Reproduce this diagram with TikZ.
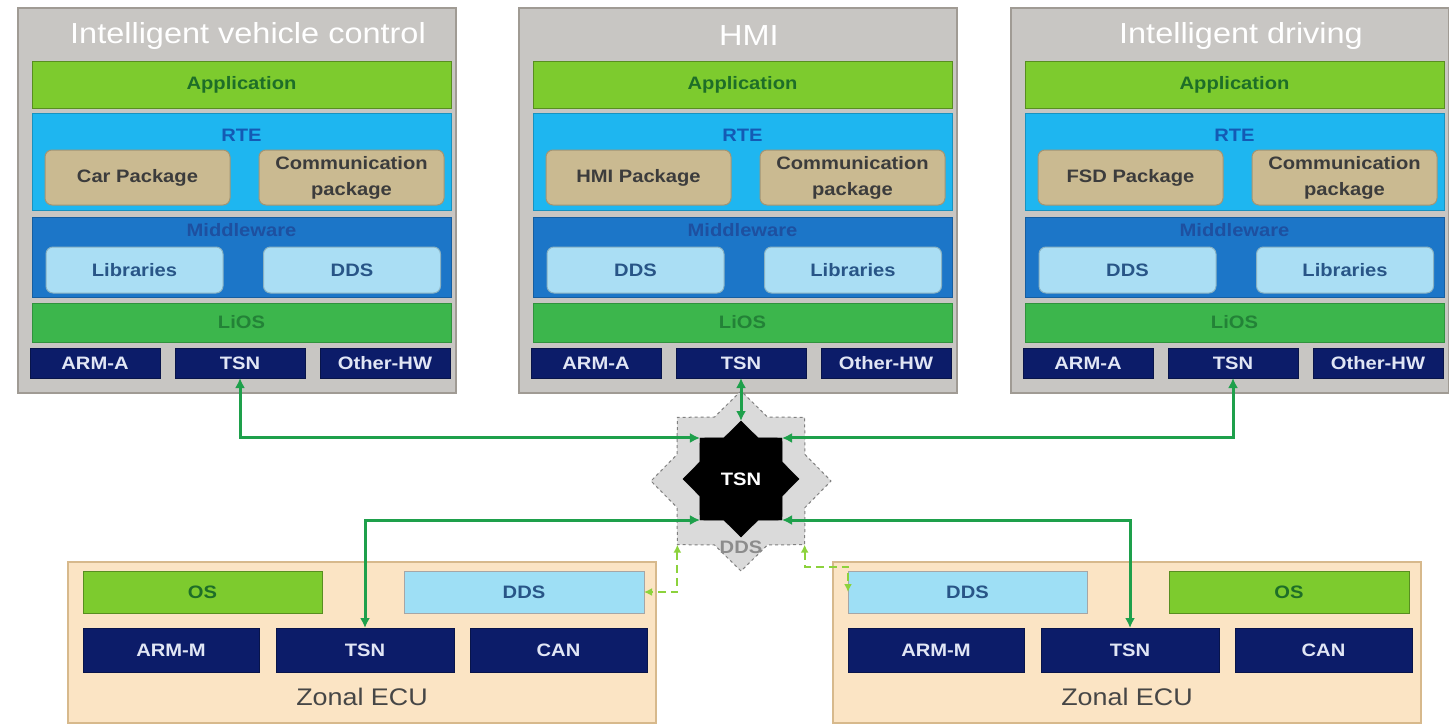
\documentclass[tikz,border=0pt]{standalone}
\usepackage{fontspec}
\setmainfont{Liberation Sans}[FakeStretch=1.12]
\usetikzlibrary{arrows.meta,shapes.geometric}

\definecolor{framegray}{RGB}{200,198,195}
\definecolor{framedraw}{RGB}{160,155,148}
\definecolor{appgreen}{RGB}{125,203,46}
\definecolor{apptext}{RGB}{30,110,40}
\definecolor{rteblue}{RGB}{30,182,240}
\definecolor{rtetext}{RGB}{20,90,180}
\definecolor{pkgtan}{RGB}{202,186,145}
\definecolor{pkgtext}{RGB}{60,60,60}
\definecolor{mwblue}{RGB}{28,118,200}
\definecolor{mwtext}{RGB}{30,80,160}
\definecolor{libblue}{RGB}{170,222,244}
\definecolor{libtext}{RGB}{40,85,135}
\definecolor{liosgreen}{RGB}{60,182,76}
\definecolor{liostext}{RGB}{35,130,55}
\definecolor{navy}{RGB}{12,28,105}
\definecolor{hwtext}{RGB}{225,230,245}
\definecolor{zonefill}{RGB}{251,228,196}
\definecolor{zonedraw}{RGB}{215,185,140}
\definecolor{zonetext}{RGB}{70,70,70}
\definecolor{ddsblue}{RGB}{158,223,245}
\definecolor{linkgreen}{RGB}{30,160,75}
\definecolor{ddsgreen}{RGB}{140,210,60}
\definecolor{hubgray}{RGB}{218,218,218}
\definecolor{hubtext}{RGB}{140,140,140}

\tikzset{
	dims/.style 2 args={minimum width=#1pt, minimum height=#2pt},
	bar/.style={line width=1pt, inner sep=0pt, outer sep=0pt, align=center, font=\bfseries\fontsize{18}{26}\selectfont},
	tile/.style={bar, rounded corners=7pt},
	appbar/.style={bar, fill=appgreen, draw=appgreen!70!black, text=apptext},
	rtebar/.style={bar, fill=rteblue, draw=rteblue!80!black},
	mwbar/.style={bar, fill=mwblue, draw=mwblue!80!black},
	liosbar/.style={bar, fill=liosgreen, draw=liosgreen!80!black, text=liostext},
	pkgtile/.style={tile, fill=pkgtan, draw=pkgtan!80!black, text=pkgtext},
	libtile/.style={tile, fill=libblue, draw=libblue!80!black, text=libtext},
	hwchip/.style={bar, fill=navy, draw=navy!70!black, text=hwtext},
	ddsbar/.style={bar, fill=ddsblue, draw=gray!70, text=libtext},
	layerlabel/.style={inner sep=0pt, font=\bfseries\fontsize{18}{20}\selectfont},
	frame/.style={fill=framegray, draw=framedraw, line width=1.5pt, inner sep=0pt, outer sep=0pt},
	zone/.style={fill=zonefill, draw=zonedraw, line width=1.5pt, inner sep=0pt, outer sep=0pt},
	tsnstar/.style={star, star points=8, star point ratio=1.3, minimum size=116pt, inner sep=0pt, outer sep=0pt,
		fill=black, draw=black, text=white, font=\bfseries\fontsize{18}{20}\selectfont},
	ddsstar/.style={star, star points=8, star point ratio=1.3, minimum size=180pt, inner sep=0pt, outer sep=0pt,
		fill=hubgray, draw=gray, line width=1pt, dash pattern=on 3pt off 3pt},
	link/.style={draw=linkgreen, line width=3pt, {Latex[length=10pt,width=10pt]}-{Latex[length=10pt,width=10pt]}},
	ddslink/.style={draw=ddsgreen, line width=2pt, dash pattern=on 8pt off 5pt, {Latex[length=8pt,width=8pt]}-{Latex[length=8pt,width=8pt]}},
}

% domain controller software stack: name, x offset, title, package, middleware left, middleware right
\def\ecustack#1#2#3#4#5#6{%
	\begin{scope}[xshift=#2pt]
		\node[frame, dims={438}{385}] (#1) at (219,200.5) {};
		\node[font=\fontsize{29}{32}\selectfont, text=white] (#1-title) at (230,36) {#3};
		\node[appbar, dims={419}{46}] (#1-app) at (223.5,85) {Application};
		\node[rtebar, dims={419}{97}] (#1-rte) at (223.5,161.5) {};
		\node[layerlabel, text=rtetext] (#1-rtelabel) at (223.5,135) {RTE};
		\node[pkgtile, dims={185}{55}] (#1-pkg) at (119.5,177.5) {#4};
		\node[pkgtile, dims={185}{55}] (#1-comm) at (333.5,177.5) {Communication\\package};
		\node[mwbar, dims={419}{80}] (#1-mw) at (223.5,257) {};
		\node[layerlabel, text=mwtext] (#1-mwlabel) at (223.5,230) {Middleware};
		\node[libtile, dims={177}{46}] (#1-mwl) at (116.5,270) {#5};
		\node[libtile, dims={177}{46}] (#1-mwr) at (334,270) {#6};
		\node[liosbar, dims={419}{39}] (#1-lios) at (223.5,322.5) {LiOS};
		\node[hwchip, dims={130}{30}] (#1-arm) at (77,363) {ARM-A};
		\node[hwchip, dims={130}{30}] (#1-tsn) at (222,363) {TSN};
		\node[hwchip, dims={130}{30}] (#1-hw) at (367,363) {Other-HW};
	\end{scope}}

% zonal controller: name, x offset, upper left style/text, upper right style/text
\def\zonalecu#1#2#3#4#5#6{%
	\begin{scope}[xshift=#2pt]
		\node[zone, dims={588}{161}] (#1) at (294,642.5) {};
		\node[#3, dims={239}{42}] (#1-tl) at (134.5,592) {#4};
		\node[#5, dims={240}{42}] (#1-tr) at (456,592) {#6};
		\node[hwchip, dims={176}{44}] (#1-arm) at (103,650) {ARM-M};
		\node[hwchip, dims={178}{44}] (#1-tsn) at (297,650) {TSN};
		\node[hwchip, dims={177}{44}] (#1-can) at (490.5,650) {CAN};
		\node[font=\fontsize{24}{28}\selectfont, text=zonetext] (#1-label) at (294,697) {Zonal ECU};
	\end{scope}}

\begin{document}
\begin{tikzpicture}[x=1pt, y=-1pt]
	%%%%% START %%%%%
	
	\fill[white] (0,0) rectangle (1449,725);
	\useasboundingbox (0,0) rectangle (1449,725);
	
	\ecustack{ivc}{18}{Intelligent vehicle control}{Car Package}{Libraries}{DDS}
	\ecustack{hmi}{519}{HMI}{HMI Package}{DDS}{Libraries}
	\ecustack{id}{1011}{Intelligent driving}{FSD Package}{DDS}{Libraries}
	
	\zonalecu{zl}{68}{appbar}{OS}{ddsbar}{DDS}
	\zonalecu{zr}{833}{ddsbar}{DDS}{appbar}{OS}
	
	% TSN switch over the DDS bus
	\node[ddsstar] (ddshub) at (741,481) {};
	\node[layerlabel, text=hubtext] (ddslabel) at (741,547) {DDS};
	\node[tsnstar] (hub) at (741,479) {TSN};
	
	\draw[link] (ivc-tsn.south) |- (hub.outer point 2);
	\draw[link] (hmi-tsn.south) -- (hub.outer point 1);
	\draw[link] (hub.outer point 8) -| (id-tsn.south);
	\draw[link] (hub.outer point 4) -| (zl-tsn.north);
	\draw[link] (hub.outer point 6) -| (zr-tsn.north);
	
	\draw[ddslink] (ddshub.outer point 4) |- (zl-tr.east);
	\draw[ddslink] (ddshub.outer point 6) -- ++(0,22) -| (zr-tl.west);
	
	%%%%% END %%%%%
\end{tikzpicture}
\end{document}
